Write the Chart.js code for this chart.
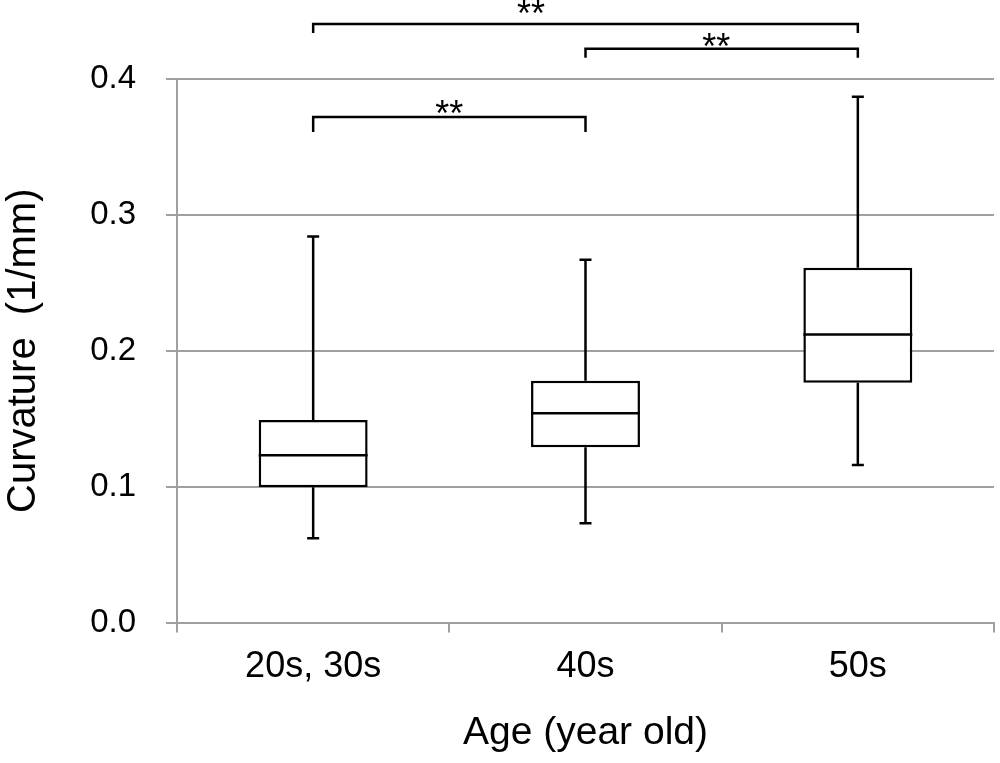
<!DOCTYPE html>
<html>
<head>
<meta charset="utf-8">
<script src="https://cdn.jsdelivr.net/npm/chart.js@4"></script>
<style>
  html, body { margin: 0; padding: 0; background: #fff; }
  #wrap { width: 1000px; height: 763px; }
</style>
</head>
<body>
<div id="wrap"><canvas id="boxChart"></canvas></div>
<script>
/* =========================
   DATA
========================= */
const ageGroups = ["20s, 30s", "40s", "50s"];
const whiskerMin = [0.062, 0.073, 0.116];
const quart1 = [0.0995, 0.129, 0.1765];
const medians = [0.123, 0.154, 0.212];
const quart3 = [0.149, 0.178, 0.261];
const whiskerMax = [0.284, 0.267, 0.387];
const yTicks = [0.0, 0.1, 0.2, 0.3, 0.4];

// significance brackets: from group, to group, level, label position, label
const bracketFrom = [0, 1, 0];
const bracketTo = [1, 2, 2];
const bracketLevel = [0.372, 0.4222, 0.4405];
const starAt = [0.5, 1.48, 0.8];
const starText = ["**", "**", "**"];

/* =========================
   STYLE
========================= */
const FONT = "'Liberation Sans', Arial, sans-serif";
const GRID = "#a0a0a0";
const LINE_W = 2.5;
const STAR_SIZE = 36;
const bracketDrop = [15, 9, 9];
const starGap = [10, 9, 17];

/* =========================
   BOX PARTS PLUGIN
========================= */
const boxParts = {
  id: "boxParts",
  afterDatasetsDraw(chart) {
    const ctx = chart.ctx;
    const x = chart.scales.x;
    const y = chart.scales.y;
    const meta = chart.getDatasetMeta(0);
    ctx.save();
    ctx.strokeStyle = "#000";
    ctx.lineWidth = LINE_W;
    ctx.lineCap = "butt";
    ageGroups.forEach((g, i) => {
      const bar = meta.data[i];
      const cx = x.getPixelForValue(i);
      const half = bar.width / 2;
      const cap = 6;
      ctx.beginPath();
      // upper whisker
      ctx.moveTo(cx, y.getPixelForValue(quart3[i]));
      ctx.lineTo(cx, y.getPixelForValue(whiskerMax[i]));
      ctx.moveTo(cx - cap, y.getPixelForValue(whiskerMax[i]));
      ctx.lineTo(cx + cap, y.getPixelForValue(whiskerMax[i]));
      // lower whisker
      ctx.moveTo(cx, y.getPixelForValue(quart1[i]));
      ctx.lineTo(cx, y.getPixelForValue(whiskerMin[i]));
      ctx.moveTo(cx - cap, y.getPixelForValue(whiskerMin[i]));
      ctx.lineTo(cx + cap, y.getPixelForValue(whiskerMin[i]));
      // median
      ctx.moveTo(cx - half, y.getPixelForValue(medians[i]));
      ctx.lineTo(cx + half, y.getPixelForValue(medians[i]));
      ctx.stroke();
    });

    // brackets
    ctx.font = STAR_SIZE + "px " + FONT;
    ctx.fillStyle = "#000";
    ctx.textAlign = "center";
    ctx.textBaseline = "alphabetic";
    bracketLevel.forEach((lv, k) => {
      const x1 = x.getPixelForValue(bracketFrom[k]);
      const x2 = x.getPixelForValue(bracketTo[k]);
      const by = y.getPixelForValue(lv);
      ctx.beginPath();
      ctx.moveTo(x1, by + bracketDrop[k]);
      ctx.lineTo(x1, by);
      ctx.lineTo(x2, by);
      ctx.lineTo(x2, by + bracketDrop[k]);
      ctx.stroke();
      const sx = x.getPixelForValue(starAt[k]);
      ctx.fillText(starText[k], sx, by - starGap[k] + STAR_SIZE * 0.52);
    });
    ctx.restore();
  }
};

/* =========================
   CHART
========================= */
const ctx = document.getElementById("boxChart");

new Chart(ctx, {
  type: "bar",
  data: {
    labels: ageGroups,
    datasets: [{
      label: "Curvature",
      data: ageGroups.map((g, i) => [quart1[i], quart3[i]]),
      backgroundColor: "#fff",
      borderColor: "#000",
      borderWidth: LINE_W,
      borderSkipped: false,
      barPercentage: 0.4,
      categoryPercentage: 1.0
    }]
  },
  options: {
    responsive: true,
    maintainAspectRatio: false,
    animation: false,
    layout: { padding: { top: 79, right: 6, left: 0, bottom: 0 } },
    plugins: {
      legend: { display: false },
      tooltip: { enabled: false }
    },
    scales: {
      x: {
        offset: true,
        grid: {
          offset: true,
          drawOnChartArea: false,
          drawTicks: true,
          tickLength: 10,
          color: GRID,
          lineWidth: 2
        },
        border: { color: GRID, width: 2 },
        ticks: {
          color: "#000",
          font: { family: FONT, size: 36 },
          padding: 13
        },
        title: {
          display: true,
          text: "Age (year old)",
          color: "#000",
          font: { family: FONT, size: 39 },
          padding: { top: 0, bottom: 6 }
        },
        afterFit(scale) { scale.height = 140.5; }
      },
      y: {
        min: 0,
        max: 0.4,
        afterBuildTicks(scale) {
          scale.ticks = yTicks.map(v => ({ value: v }));
        },
        grid: {
          color: GRID,
          lineWidth: 2,
          drawTicks: true,
          tickLength: 11
        },
        border: { color: GRID, width: 2 },
        ticks: {
          color: "#000",
          font: { family: FONT, size: 33 },
          padding: 30,
          callback: v => Number(v).toFixed(1)
        },
        title: {
          display: true,
          text: "Curvature  (1/mm)",
          color: "#000",
          font: { family: FONT, size: 40 },
          padding: { top: 0, bottom: 0 }
        },
        afterFit(scale) { scale.width = 177; }
      }
    }
  },
  plugins: [boxParts]
});
</script>
</body>
</html>
